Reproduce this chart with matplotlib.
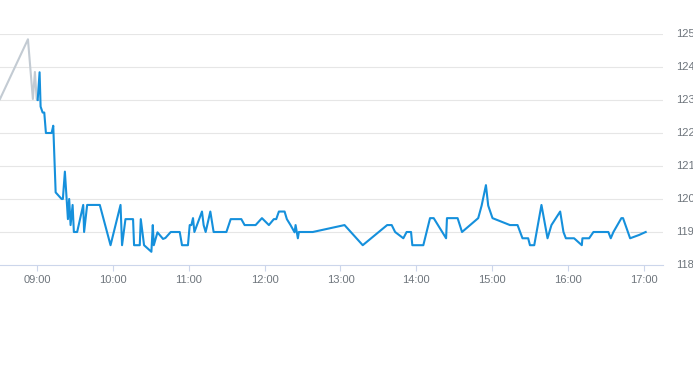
import matplotlib
matplotlib.use("Agg")
import matplotlib.pyplot as plt
import matplotlib.transforms as mtransforms
import pandas as pd

DAY = "2024-01-02 "

pre_times = ["08:30:48", "08:52:54", "08:56:48", "08:58:24", "08:59:48", "09:00:36"]
pre_values = [123.03, 124.84, 123.03, 123.85, 123.03, 123.00]

times = [
    "09:00:36", "09:02:06", "09:02:54", "09:04:30", "09:05:48", "09:07:06", "09:11:36", "09:12:54",
    "09:14:48", "09:19:30", "09:20:30", "09:22:06", "09:24:30", "09:25:30", "09:26:36", "09:28:12",
    "09:29:12", "09:31:48", "09:36:36", "09:37:18", "09:39:42", "09:49:42", "09:58:12", "10:06:06",
    "10:07:18", "10:10:00", "10:16:00", "10:16:48", "10:21:18", "10:22:06", "10:24:42", "10:30:30",
    "10:31:36", "10:32:24", "10:35:18", "10:39:42", "10:41:36", "10:45:48", "10:52:54", "10:54:42",
    "10:59:24", "11:00:48", "11:02:06", "11:03:24", "11:04:30", "11:10:30", "11:11:48", "11:13:24",
    "11:17:06", "11:19:42", "11:29:48", "11:33:12", "11:41:36", "11:44:12", "11:52:54", "11:57:54",
    "12:03:24", "12:07:18", "12:09:12", "12:11:18", "12:15:48", "12:17:36", "12:20:30", "12:23:42",
    "12:24:30", "12:26:18", "12:27:06", "12:38:06", "13:03:12", "13:17:36", "13:36:54", "13:40:30",
    "13:43:12", "13:49:42", "13:52:18", "13:55:48", "13:56:48", "14:05:30", "14:10:48", "14:13:42",
    "14:23:30", "14:24:12", "14:32:36", "14:36:06", "14:48:54", "14:51:36", "14:55:00", "14:56:48",
    "15:00:12", "15:14:00", "15:20:00", "15:23:54", "15:28:24", "15:29:48", "15:33:12", "15:38:54",
    "15:43:42", "15:46:48", "15:53:42", "15:56:18", "15:58:12", "16:04:42", "16:10:48", "16:11:18",
    "16:16:36", "16:20:00", "16:31:48", "16:33:42", "16:35:48", "16:42:06", "16:43:24", "16:49:00",
    "16:56:06", "17:01:18",
]
values = [
    123.00, 123.84, 122.80, 122.62, 122.62, 122.00, 122.00, 122.22,
    120.20, 120.00, 120.00, 120.83, 119.39, 120.00, 119.21, 119.82,
    119.00, 119.00, 119.82, 119.00, 119.82, 119.82, 118.60, 119.82,
    118.60, 119.39, 119.39, 118.60, 118.60, 119.39, 118.60, 118.40,
    119.21, 118.60, 118.99, 118.79, 118.82, 119.00, 119.00, 118.60,
    118.60, 119.21, 119.21, 119.42, 119.00, 119.62, 119.21, 119.00,
    119.62, 119.00, 119.00, 119.39, 119.39, 119.21, 119.21, 119.42,
    119.21, 119.39, 119.39, 119.62, 119.62, 119.39, 119.21, 118.99,
    119.21, 118.81, 119.00, 119.00, 119.21, 118.60, 119.21, 119.21,
    119.00, 118.81, 119.00, 119.00, 118.60, 118.60, 119.42, 119.42,
    118.81, 119.42, 119.42, 119.00, 119.42, 119.80, 120.42, 119.80,
    119.42, 119.21, 119.21, 118.81, 118.81, 118.60, 118.60, 119.82,
    118.81, 119.21, 119.62, 119.00, 118.81, 118.81, 118.60, 118.81,
    118.81, 119.00, 119.00, 118.81, 119.00, 119.42, 119.42, 118.81,
    118.91, 119.00,
]

ref_times = ["16:50:00", "17:01:18"]
ref_values = [119.0, 119.0]

y_ticks = [118, 119, 120, 121, 122, 123, 124, 125]
x_tick_labels = ["09:00", "10:00", "11:00", "12:00", "13:00", "14:00", "15:00", "16:00", "17:00"]
x_start, x_end = "08:30:48", "17:15:00"

label_c = "#6e757c"


def to_dt(lst):
    return pd.to_datetime([DAY + t for t in lst])


fig = plt.figure(figsize=(6.93, 3.65), dpi=100)
ax = fig.add_axes([0.0, 1 - 265 / 365, 663 / 693, 231 / 365])

grid_c = "#e6e6e6"
for yv in y_ticks[1:]:
    ax.axhline(yv, color=grid_c, lw=0.8, zorder=0)

ax.plot(to_dt(ref_times), ref_values, color="#c8d0d8", lw=0.8, zorder=1)
ax.plot(to_dt(pre_times), pre_values, color="#c3cbd3", lw=1.5, zorder=2)
ax.plot(to_dt(times), values, color="#1590dc", lw=1.5, zorder=3)

ax.set_ylim(118, 125)
ax.set_xlim(pd.Timestamp(DAY + x_start), pd.Timestamp(DAY + x_end))

for s in ["top", "left", "right"]:
    ax.spines[s].set_visible(False)
ax.spines["bottom"].set_color("#ccd6eb")
ax.spines["bottom"].set_linewidth(0.8)

ax.set_xticks(to_dt([t + ":00" for t in x_tick_labels]))
ax.set_xticklabels(x_tick_labels, fontfamily="Liberation Sans")
ax.tick_params(axis="x", colors="#ccd6eb", length=4, width=0.8, pad=3,
               labelcolor=label_c, labelsize=8)
ax.set_yticks([])

trans = mtransforms.blended_transform_factory(fig.transFigure, ax.transData)
for yv in y_ticks:
    fig.text(676 / 693, yv, str(yv), transform=trans, ha="left", va="center",
             fontsize=8, color=label_c, fontfamily="Liberation Sans")

fig.savefig("out.png", dpi=100)
